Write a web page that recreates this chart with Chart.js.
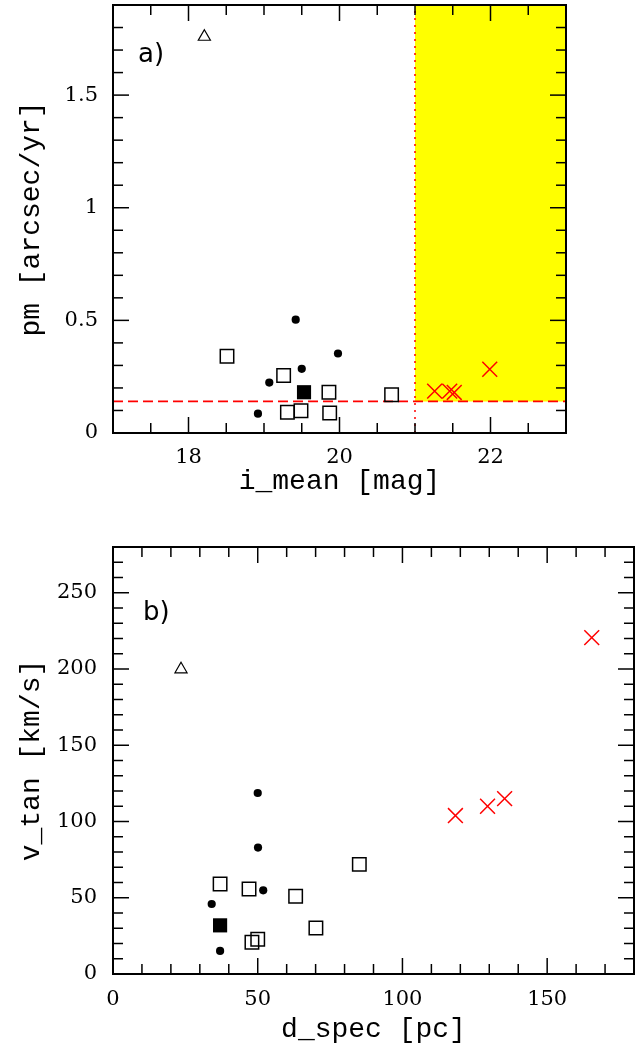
<!DOCTYPE html>
<html>
<head>
<meta charset="utf-8">
<script src="https://cdn.jsdelivr.net/npm/chart.js@4/dist/chart.umd.min.js"></script>
<style>
  html, body { margin: 0; padding: 0; background: #fff; }
  #wrap { position: relative; width: 635px; height: 1046px; }
  canvas { position: absolute; left: 0; }
  #pa { top: 0; }
  #pb { top: 515px; }
</style>
</head>
<body>
<div id="wrap">
  <canvas id="pa" width="635" height="515" style="width:635px;height:515px"></canvas>
  <canvas id="pb" width="635" height="531" style="width:635px;height:531px"></canvas>
</div>
<script>
// ---- panel a: mean i magnitude vs proper motion ----
const iMeanDot = [19.42, 19.98, 19.50, 19.07, 18.92];
const pmDot    = [0.503, 0.353, 0.285, 0.224, 0.086];
const iMeanSq  = [18.51, 19.26, 19.86, 20.69, 19.31, 19.49, 19.87];
const pmSq     = [0.341, 0.255, 0.181, 0.170, 0.092, 0.099, 0.089];
const iMeanFill = [19.53];
const pmFill    = [0.181];
const iMeanTri  = [18.21];
const pmTri     = [1.759];
const iMeanNew  = [21.26, 21.46, 21.52, 21.99];
const pmNew     = [0.186, 0.186, 0.180, 0.283];

// selection limits (shaded region)
const magLimit = 21;
const pmLimit = 0.14;

// ---- panel b: spectroscopic distance vs tangential velocity ----
const dDot  = [50.0, 50.1, 34.1, 51.9, 37.0];
const vDot  = [118.7, 82.9, 45.9, 54.9, 15.1];
const dSq   = [37.0, 47.0, 85.1, 63.1, 70.1, 48.0, 50.0];
const vSq   = [59.0, 55.7, 71.9, 51.0, 30.2, 20.8, 22.8];
const dFill = [37.0];
const vFill = [31.9];
const dTri  = [23.5];
const vTri  = [199.8];
const dNew  = [118.3, 129.4, 135.3, 165.4];
const vNew  = [103.9, 110.0, 115.0, 220.6];

// axis ranges and labelled ticks
const xRangeA = [17, 23];
const yRangeA = [0, 1.9];
const xTicksA = [18, 20, 22];
const yTicksA = [0, 0.5, 1, 1.5];
const xRangeB = [0, 180];
const yRangeB = [0, 280];
const xTicksB = [0, 50, 100, 150];
const yTicksB = [0, 50, 100, 150, 200, 250];

const pts = (xs, ys) => xs.map((v, i) => ({ x: v, y: ys[i] }));

Chart.defaults.color = '#000';
Chart.defaults.font.family = 'DejaVu Serif';

const tickFont = { family: 'DejaVu Serif', size: 21 };
const titleFont = { family: 'Liberation Mono', size: 28 };

// box frame with inward major/minor ticks on all four sides, plus panel tag
const framePlugin = {
  id: 'frame',
  afterDatasetsDraw(chart, args, o) {
    const { ctx, chartArea: a, scales: { x, y } } = chart;
    const line = (x1, y1, x2, y2) => { ctx.beginPath(); ctx.moveTo(x1, y1); ctx.lineTo(x2, y2); ctx.stroke(); };
    const isMajor = (scale, v) => scale.ticks.some(t => Math.abs(t.value - v) < 1e-6);
    const minors = (scale, step) => {
      const out = [];
      for (let k = Math.ceil(scale.min / step - 1e-6); k * step <= scale.max + 1e-6; k++) {
        const v = +(k * step).toFixed(6);
        if (v <= scale.min + 1e-6 || v >= scale.max - 1e-6) continue;
        if (!isMajor(scale, v)) out.push(v);
      }
      return out;
    };
    ctx.save();
    ctx.strokeStyle = '#000';
    ctx.lineWidth = 1.5;
    const xTick = (v, len) => {
      const p = x.getPixelForValue(v);
      line(p, a.bottom, p, a.bottom - len);
      line(p, a.top, p, a.top + len);
    };
    const yTick = (v, len) => {
      const p = y.getPixelForValue(v);
      line(a.left, p, a.left + len, p);
      line(a.right, p, a.right - len, p);
    };
    x.ticks.forEach(t => xTick(t.value, 16));
    y.ticks.forEach(t => yTick(t.value, 16));
    minors(x, o.xMinor).forEach(v => xTick(v, 10));
    minors(y, o.yMinor).forEach(v => yTick(v, 10));
    ctx.lineWidth = 2;
    ctx.strokeRect(a.left, a.top, a.right - a.left, a.bottom - a.top);
    ctx.fillStyle = '#000';
    ctx.font = '26px "DejaVu Sans"';
    ctx.textBaseline = 'alphabetic';
    ctx.textAlign = 'left';
    ctx.fillText(o.tag, a.left + o.tagDx, a.top + o.tagDy);
    ctx.restore();
  }
};

function markerSets(dot, sq, fill, tri, cross) {
  return [
    { data: dot, pointStyle: 'circle', pointRadius: 4.1, backgroundColor: '#000', borderWidth: 0, order: 0 },
    { data: sq, pointStyle: 'rect', pointRadius: 9.5, backgroundColor: 'rgba(0,0,0,0)', borderColor: '#000', borderWidth: 1.5, order: 0 },
    { data: fill, pointStyle: 'rect', pointRadius: 10, backgroundColor: '#000', borderColor: '#000', borderWidth: 0, order: 0 },
    { data: tri, pointStyle: 'triangle', pointRadius: 7, backgroundColor: 'rgba(0,0,0,0)', borderColor: '#000', borderWidth: 1.2, order: 0 },
    { data: cross, pointStyle: 'crossRot', pointRadius: 10.5, borderColor: '#ff0000', backgroundColor: '#ff0000', borderWidth: 1.5, order: 0 }
  ];
}

function axes(xRange, yRange, xTicks, yTicks, xTitle, yTitle, lay) {
  return {
    x: {
      type: 'linear', min: xRange[0], max: xRange[1],
      grid: { display: false, drawTicks: false },
      border: { display: false },
      afterBuildTicks: s => { s.ticks = xTicks.map(v => ({ value: v })); },
      afterFit: s => { s.height = lay.xHeight; s.paddingLeft = 0; s.paddingRight = 0; },
      ticks: { font: tickFont, padding: lay.xPad, maxRotation: 0, callback: v => String(v) },
      title: { display: true, text: xTitle, font: titleFont, padding: { top: 0, bottom: lay.xTitlePad } }
    },
    y: {
      type: 'linear', min: yRange[0], max: yRange[1],
      grid: { display: false, drawTicks: false },
      border: { display: false },
      afterBuildTicks: s => { s.ticks = yTicks.map(v => ({ value: v })); },
      afterFit: s => { s.width = 113; s.paddingTop = 0; s.paddingBottom = 0; },
      ticks: { font: tickFont, padding: lay.yPad, callback: v => String(v) },
      title: { display: true, text: yTitle, font: titleFont, padding: { top: lay.yTitlePad, bottom: 0 } }
    }
  };
}

const common = {
  responsive: false,
  animation: false,
  devicePixelRatio: 1,
  events: [],
  plugins: { legend: { display: false }, tooltip: { enabled: false } }
};

// panel a
new Chart(document.getElementById('pa'), {
  type: 'scatter',
  data: {
    datasets: [
      // shaded region beyond the magnitude limit and above the pm limit
      { data: [{ x: magLimit, y: yRangeA[1] }, { x: xRangeA[1], y: yRangeA[1] }], showLine: true,
        fill: { value: pmLimit }, backgroundColor: '#ffff00', borderWidth: 0, pointRadius: 0, order: 10 },
      // pm limit
      { data: [{ x: xRangeA[0], y: pmLimit }, { x: xRangeA[1], y: pmLimit }], showLine: true,
        borderColor: '#ff0000', borderWidth: 1.7, borderDash: [10, 5], pointRadius: 0, fill: false, order: 5 },
      // magnitude limit
      { data: [{ x: magLimit, y: yRangeA[0] }, { x: magLimit, y: yRangeA[1] }], showLine: true,
        borderColor: '#ff0000', borderWidth: 1.5, borderDash: [2, 5], pointRadius: 0, fill: false, order: 5 },
      ...markerSets(pts(iMeanDot, pmDot), pts(iMeanSq, pmSq), pts(iMeanFill, pmFill), pts(iMeanTri, pmTri), pts(iMeanNew, pmNew))
    ]
  },
  options: {
    ...common,
    layout: { autoPadding: false, padding: { top: 5, right: 69, left: 0, bottom: 0 } },
    scales: axes(xRangeA, yRangeA, xTicksA, yTicksA, 'i_mean [mag]', 'pm [arcsec/yr]',
      { xHeight: 82, xPad: 12, xTitlePad: 17, yPad: 15, yTitlePad: 15 }),
    plugins: { ...common.plugins, frame: { xMinor: 0.5, yMinor: 0.1, tag: 'a)', tagDx: 25, tagDy: 57 } }
  },
  plugins: [framePlugin]
});

// panel b
new Chart(document.getElementById('pb'), {
  type: 'scatter',
  data: {
    datasets: markerSets(pts(dDot, vDot), pts(dSq, vSq), pts(dFill, vFill), pts(dTri, vTri), pts(dNew, vNew))
  },
  options: {
    ...common,
    layout: { autoPadding: false, padding: { top: 32, right: 1, left: 0, bottom: 0 } },
    scales: axes(xRangeB, yRangeB, xTicksB, yTicksB, 'd_spec [pc]', 'v_tan [km/s]',
      { xHeight: 72, xPad: 13, xTitlePad: 0, yPad: 16, yTitlePad: 15 }),
    plugins: { ...common.plugins, frame: { xMinor: 10, yMinor: 10, tag: 'b)', tagDx: 30, tagDy: 73 } }
  },
  plugins: [framePlugin]
});
</script>
</body>
</html>
